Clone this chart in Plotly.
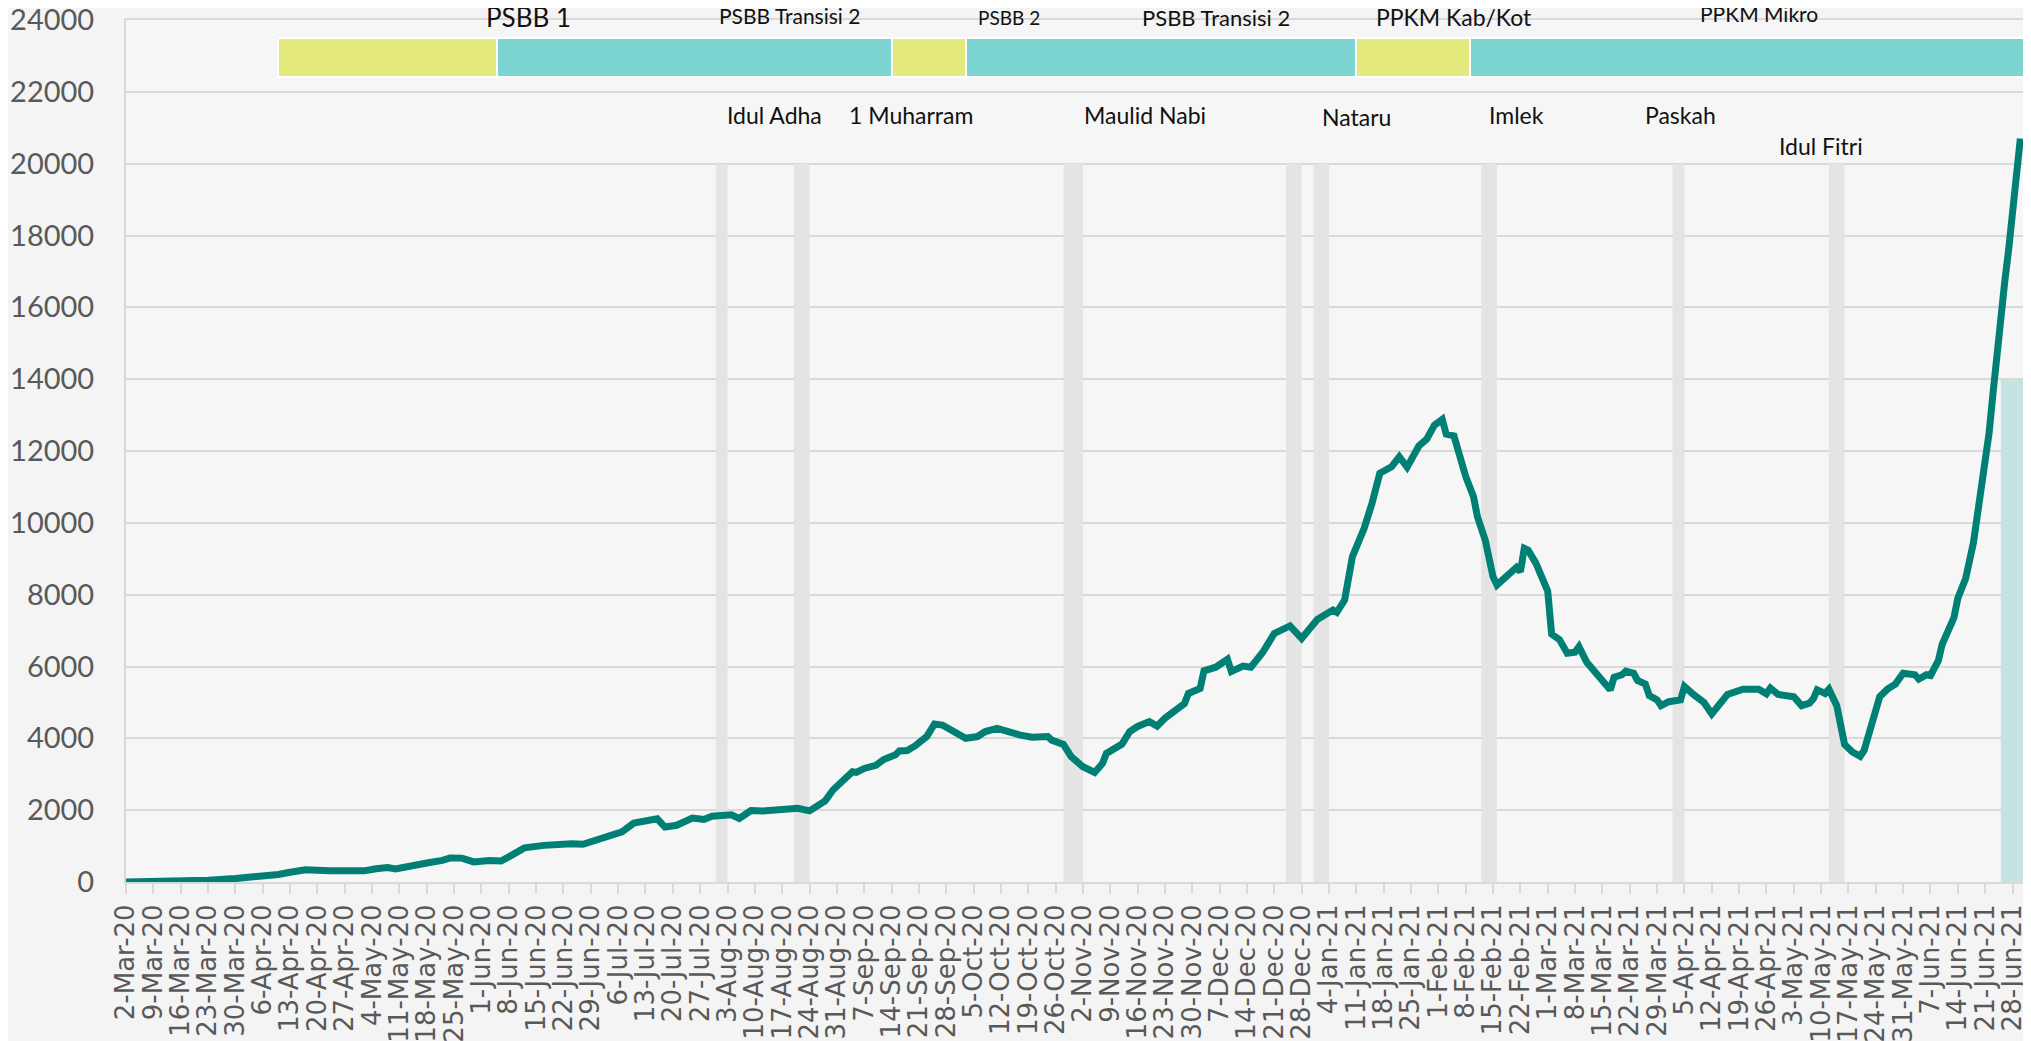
import pandas as pd
import plotly.graph_objects as go

# 7-day average of new daily cases
dates = [
    "2020-03-02", "2020-03-09", "2020-03-16", "2020-03-23", "2020-03-30", "2020-04-06", "2020-04-10", "2020-04-13", "2020-04-17", "2020-04-23",
    "2020-05-02", "2020-05-05", "2020-05-08", "2020-05-10", "2020-05-14", "2020-05-18", "2020-05-22", "2020-05-24", "2020-05-27", "2020-05-30",
    "2020-06-03", "2020-06-06", "2020-06-08", "2020-06-12", "2020-06-17", "2020-06-21", "2020-06-24", "2020-06-27", "2020-06-30",
    "2020-07-03", "2020-07-07", "2020-07-10", "2020-07-14", "2020-07-16", "2020-07-18", "2020-07-21", "2020-07-25", "2020-07-28", "2020-07-30",
    "2020-08-03", "2020-08-04", "2020-08-06", "2020-08-09", "2020-08-12", "2020-08-14", "2020-08-17", "2020-08-21", "2020-08-24", "2020-08-26", "2020-08-28", "2020-08-30",
    "2020-09-01", "2020-09-04", "2020-09-05", "2020-09-07", "2020-09-10", "2020-09-12", "2020-09-15", "2020-09-16", "2020-09-18", "2020-09-20", "2020-09-23", "2020-09-25", "2020-09-27", "2020-09-29",
    "2020-10-03", "2020-10-06", "2020-10-08", "2020-10-11", "2020-10-15", "2020-10-17", "2020-10-20", "2020-10-24", "2020-10-25", "2020-10-28", "2020-10-30",
    "2020-11-02", "2020-11-05", "2020-11-07", "2020-11-08", "2020-11-12", "2020-11-14", "2020-11-16", "2020-11-19", "2020-11-21", "2020-11-23", "2020-11-25", "2020-11-28", "2020-11-29",
    "2020-12-02", "2020-12-03", "2020-12-06", "2020-12-09", "2020-12-10", "2020-12-13", "2020-12-15", "2020-12-18", "2020-12-21", "2020-12-25", "2020-12-28",
    "2021-01-01", "2021-01-05", "2021-01-06", "2021-01-08", "2021-01-10", "2021-01-13", "2021-01-15", "2021-01-17", "2021-01-20", "2021-01-22", "2021-01-24", "2021-01-25", "2021-01-27", "2021-01-29", "2021-01-31",
    "2021-02-02", "2021-02-03", "2021-02-05", "2021-02-07", "2021-02-08", "2021-02-10", "2021-02-11", "2021-02-13", "2021-02-15", "2021-02-16", "2021-02-19", "2021-02-21", "2021-02-22", "2021-02-23", "2021-02-24", "2021-02-26",
    "2021-03-01", "2021-03-02", "2021-03-04", "2021-03-06", "2021-03-08", "2021-03-09", "2021-03-11", "2021-03-13", "2021-03-15", "2021-03-17", "2021-03-18", "2021-03-20", "2021-03-21", "2021-03-23", "2021-03-24", "2021-03-26", "2021-03-27", "2021-03-29", "2021-03-30",
    "2021-04-01", "2021-04-04", "2021-04-05", "2021-04-07", "2021-04-10", "2021-04-12", "2021-04-14", "2021-04-16", "2021-04-20", "2021-04-24", "2021-04-26", "2021-04-27", "2021-04-29",
    "2021-05-03", "2021-05-05", "2021-05-07", "2021-05-08", "2021-05-09", "2021-05-11", "2021-05-12", "2021-05-14", "2021-05-16", "2021-05-18", "2021-05-20", "2021-05-21", "2021-05-23", "2021-05-25", "2021-05-27", "2021-05-29", "2021-05-31",
    "2021-06-03", "2021-06-04", "2021-06-06", "2021-06-07", "2021-06-09", "2021-06-10", "2021-06-12", "2021-06-13", "2021-06-14", "2021-06-16", "2021-06-18", "2021-06-19", "2021-06-20", "2021-06-21", "2021-06-22", "2021-06-23", "2021-06-24", "2021-06-25", "2021-06-26", "2021-06-27", "2021-06-28", "2021-06-29", "2021-06-30",
]
cases_7d = [
    0, 3, 15, 50, 95, 140, 210, 270, 340, 310,
    310, 370, 400, 365, 465, 530, 600, 670, 665, 560,
    600, 585, 700, 950, 1020, 1070, 1065, 1050, 1160,
    1300, 1400, 1640, 1740, 1760, 1530, 1580, 1780, 1740, 1830,
    1840, 1870, 1770, 1990, 1975, 2000, 2045, 2050, 1980, 2140, 2260, 2560,
    2760, 3070, 3050, 3160, 3250, 3410, 3540, 3650, 3660, 3790, 4050, 4400, 4370, 4230,
    4000, 4050, 4190, 4280, 4120, 4090, 4030, 4050, 3950, 3830, 3490,
    3210, 3050, 3300, 3580, 3840, 4190, 4330, 4465, 4340, 4560, 4740, 4970, 5250,
    5390, 5880, 5980, 6200, 5860, 6010, 5980, 6390, 6920, 7130, 6780,
    7310, 7570, 7510, 7850, 9060, 9850, 10540, 11380, 11560, 11840, 11550, 11750, 12140, 12330, 12720,
    12880, 12470, 12420, 11560, 11290, 10730, 10170, 9520, 8500, 8270, 8570, 8760, 8640, 9290, 9240, 8870,
    8100, 6900, 6750, 6370, 6400, 6550, 6115, 5880, 5620, 5350, 5700, 5770, 5870, 5810, 5610, 5510, 5190, 5070, 4910,
    5020, 5070, 5440, 5250, 5000, 4680, 4960, 5220, 5370, 5370, 5240, 5400, 5220,
    5160, 4910, 4980, 5100, 5350, 5250, 5370, 4910, 3830, 3620, 3500, 3660, 4500, 5160, 5370, 5510, 5810,
    5770, 5650, 5770, 5750, 6160, 6620, 7090, 7360, 7900, 8450, 9450, 10150, 10900, 11700, 12500, 13600, 14800, 15800, 16700, 17600, 18600, 19600, 20700,
]

# restriction phases (bar at the top)
phase_names = ["PSBB 1", "PSBB Transisi 2", "PSBB 2", "PSBB Transisi 2", "PPKM Kab/Kot", "PPKM Mikro"]
phase_start = ["2020-04-10", "2020-06-05", "2020-09-14", "2020-10-03", "2021-01-11", "2021-02-09"]
phase_end = ["2020-06-05", "2020-09-14", "2020-10-03", "2021-01-11", "2021-02-09", "2021-07-01"]
phase_strict = [True, False, True, False, True, False]

# holidays (grey bands)
holiday_start = ["2020-07-31", "2020-08-20", "2020-10-28", "2020-12-24", "2020-12-31", "2021-02-12", "2021-04-02", "2021-05-12"]
holiday_end = ["2020-08-03", "2020-08-24", "2020-11-02", "2020-12-28", "2021-01-04", "2021-02-16", "2021-04-05", "2021-05-16"]
event_names = ["Idul Adha", "1 Muharram", "Maulid Nabi", "Nataru", "Imlek", "Paskah", "Idul Fitri"]

# latest period highlight
recent_start = "2021-06-25"
recent_end = "2021-07-01"

LINE_COLOR = "#007F74"
YELLOW = "#E4EA7D"
TEAL = "#7DD5D1"
GREY_BAND = "#E4E4E4"
TEXT_FONT = "Lato"

fig = go.Figure()

# phase bars
durations = [(pd.Timestamp(e) - pd.Timestamp(s)).total_seconds() * 1000
             for s, e in zip(phase_start, phase_end)]
fig.add_trace(go.Bar(
    base=phase_start,
    x=durations,
    y=[22950] * len(phase_start),
    width=1100,
    orientation='h',
    marker=dict(color=[YELLOW if s else TEAL for s in phase_strict],
                line=dict(color="white", width=2)),
    hoverinfo='skip',
    showlegend=False,
))

fig.add_trace(go.Scatter(
    x=dates,
    y=cases_7d,
    mode='lines',
    line=dict(color=LINE_COLOR, width=7),
    hoverinfo='x+y',
    showlegend=False,
))

for s, e in zip(holiday_start, holiday_end):
    fig.add_shape(type='rect', xref='x', yref='y', x0=s, x1=e, y0=0, y1=20000,
                  fillcolor=GREY_BAND, line_width=0, layer='between')
fig.add_shape(type='rect', xref='x', yref='y', x0=recent_start, x1=recent_end, y0=0, y1=14000,
              fillcolor="#C6E2E1", line_width=0, layer='between')

# phase labels, sitting on the top edge of the plot
phase_label_x = ["2020-06-13", "2020-08-19", "2020-10-14", "2020-12-06", "2021-02-05", "2021-04-24"]
phase_label_shift = [3, 5, 3, 3, 3, 7]
phase_label_size = [26, 21, 19, 22, 23, 21]
for name, x, dy, sz in zip(phase_names, phase_label_x, phase_label_shift, phase_label_size):
    fig.add_annotation(x=x, y=24000, yshift=dy, text=name, showarrow=False,
                       font=dict(family=TEXT_FONT, size=sz, color="#111111"))

# holiday labels
event_label_x = ["2020-08-15", "2020-09-19", "2020-11-18", "2021-01-11", "2021-02-21", "2021-04-04", "2021-05-10"]
event_label_y = [21360, 21360, 21360, 21300, 21360, 21360, 20500]
for name, x, y in zip(event_names, event_label_x, event_label_y):
    fig.add_annotation(x=x, y=y, text=name, showarrow=False,
                       font=dict(family=TEXT_FONT, size=23, color="#111111"))

fig.update_layout(
    width=2023,
    height=1033,
    margin=dict(l=118, r=4, t=12, b=159),
    paper_bgcolor="#F4F4F4",
    plot_bgcolor="#F6F6F6",
    bargap=0,
    showlegend=False,
)
fig.update_xaxes(
    type='date',
    range=["2020-03-02", "2021-07-01 17:00"],
    tick0="2020-03-02",
    dtick=7 * 86400000,
    tickformat="%-d-%b-%y",
    tickangle=-90,
    tickfont=dict(family="DejaVu Sans", size=26, color="#595959"),
    ticks='outside',
    ticklen=10,
    tickcolor="#D9D9D9",
    tickwidth=2,
    showgrid=False,
    showline=True,
    linecolor="#D9D9D9",
    linewidth=2,
    mirror=True,
    automargin=False,
)
fig.update_yaxes(
    range=[0, 24000],
    dtick=2000,
    tickformat="d",
    tickfont=dict(family=TEXT_FONT, size=29, color="#595959"),
    ticklabelstandoff=24,
    ticklabeloverflow='allow',
    showgrid=True,
    gridcolor="#D9D9D9",
    gridwidth=2,
    showline=True,
    linecolor="#D9D9D9",
    linewidth=2,
    mirror=True,
    zeroline=False,
    automargin=False,
)

fig.write_html("out.html")
